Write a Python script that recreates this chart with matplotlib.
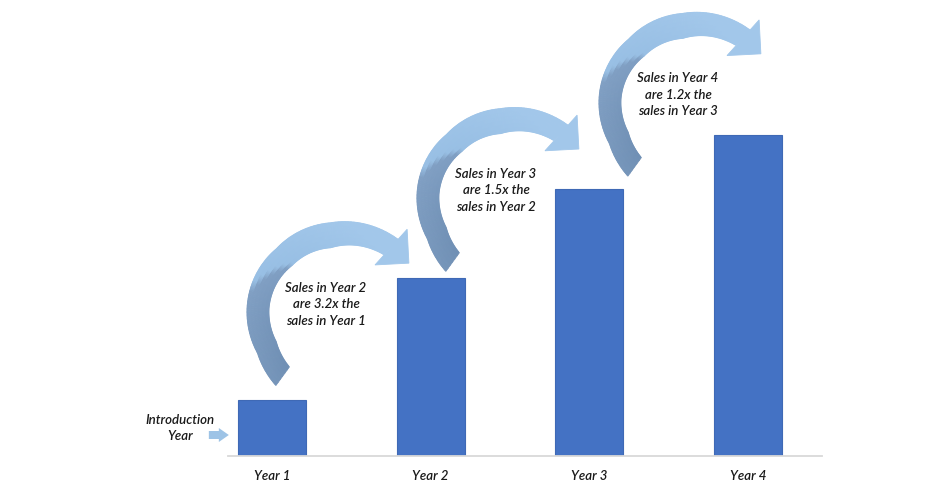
import matplotlib.pyplot as plt
import numpy as np
from matplotlib.collections import PolyCollection
from matplotlib.patches import Polygon
from matplotlib.transforms import IdentityTransform
from matplotlib.colors import to_rgb

# data
years = ['Year 1', 'Year 2', 'Year 3', 'Year 4']
sales = [10, 32, 48, 57.6]
growth = [3.2, 1.5, 1.2]

# where each curved arrow ends, relative to top-left corner of the next bar (data units)
tip_dx = [0.085, 0.156, 0.303]
tip_dy = [2.8, 7.3, 14.8]

plt.rcParams['font.family'] = ['Lato', 'DejaVu Sans']
txt_kw = dict(fontstyle='italic', fontsize=9.5, fontweight='semibold', color='#1a1a1a')

bar_w = 0.43
fig = plt.figure(figsize=(9.52, 5), dpi=100)
ax = fig.add_axes([228 / 952, 44 / 500, 594 / 952, 456 / 500])
x = np.arange(len(years))
ax.bar(x, sales, width=bar_w, color='#4472C4', edgecolor='#3F69B5', linewidth=0.8, zorder=2)
ax.set_xlim(-0.277, 3.466)
ax.set_ylim(0, 81.9)
for s in ['top', 'right', 'left']:
    ax.spines[s].set_visible(False)
ax.spines['bottom'].set_color('#D9D9D9')
ax.spines['bottom'].set_linewidth(1.3)
ax.set_yticks([])
ax.set_xticks(x, years, **txt_kw)
ax.tick_params(axis='x', length=0, pad=10)

# curved arrow shape: (angle deg, radius px, band width px) around a centre
knots = np.array([[46, 85, 21], [91, 73, 25], [133, 70, 23],
                  [180, 74, 22], [211, 76, 22], [234, 84, 23]])
col_th = [46, 128, 136, 234]
col_rgb = np.array([to_rgb(c) for c in ['#A2C7EA', '#98BFE4', '#809FC3', '#6F8FB4']])
ident = IdentityTransform()


def curved_arrow(tip):
    tx, ty = ax.transData.transform(tip)
    c = np.array([tx - 78, ty - 46])
    th = np.linspace(234, 46, 200)
    r = np.interp(th, knots[:, 0], knots[:, 1])
    w = np.interp(th, knots[:, 0], knots[:, 2])
    u = np.column_stack([np.cos(np.radians(th)), np.sin(np.radians(th))])
    mid = (th[:-1] + th[1:]) / 2
    quads, cols = [], []
    n_strip = 6
    for j in range(n_strip):
        s0, s1 = j / n_strip, (j + 1) / n_strip
        a = c + (r - w / 2 + w * s0)[:, None] * u
        b = c + (r - w / 2 + w * s1)[:, None] * u
        sm = (s0 + s1) / 2
        # colour boundary twists across the band
        tt = mid - 35 * sm
        cc = np.column_stack([np.interp(tt, col_th, col_rgb[:, k]) for k in range(3)])
        for k in range(len(th) - 1):
            quads.append([a[k], a[k + 1], b[k + 1], b[k]])
            cols.append(cc[k])
    pc = PolyCollection(quads, facecolors=cols, edgecolors=cols, linewidths=0.6,
                        transform=ident, zorder=3, clip_on=False)
    ax.add_collection(pc, autolim=False)
    # head
    e = c + r[-1] * u[-1]
    ang = np.radians(-42)
    t = np.array([np.cos(ang), np.sin(ang)])
    n = np.array([-t[1], t[0]])
    head = Polygon([e + 24 * n, e + 24 * t, e - 24 * n], closed=True, transform=ident,
                   fc=col_rgb[0], ec=col_rgb[0], lw=0.6, zorder=3, clip_on=False)
    ax.add_patch(head)


for i in range(len(growth)):
    tip = (x[i + 1] - bar_w / 2 + tip_dx[i], sales[i + 1] + tip_dy[i])
    curved_arrow(tip)
    ax.annotate(f'Sales in Year {i + 2}\nare {growth[i]}x the\nsales in Year {i + 1}',
                xy=tip, xytext=(-84, -42), textcoords='offset pixels',
                ha='center', va='center', linespacing=1.45, zorder=4, **txt_kw)

# small arrow pointing at the introduction year
bx, by = ax.transData.transform((x[0] - bar_w / 2, 0))
ax0, ay0 = bx - 9, by + 21
small = Polygon([(ax0 - 20, ay0 - 4), (ax0 - 10, ay0 - 4), (ax0 - 10, ay0 - 7), (ax0, ay0),
                 (ax0 - 10, ay0 + 7), (ax0 - 10, ay0 + 4), (ax0 - 20, ay0 + 4)],
                closed=True, transform=ident, fc='#9DC3E6', ec='none', clip_on=False)
ax.add_patch(small)
ax.annotate('Introduction\nYear', xy=(x[0] - bar_w / 2, 0), xytext=(-58, 28),
            textcoords='offset pixels', ha='center', va='center',
            linespacing=1.45, annotation_clip=False, **txt_kw)

fig.savefig('out.png', dpi=100)
